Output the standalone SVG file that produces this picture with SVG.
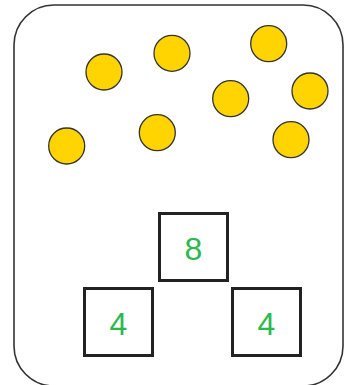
<svg xmlns="http://www.w3.org/2000/svg" width="353" height="385" viewBox="0 0 353 385">
<style>
.frame{fill:#fff;stroke:#333;stroke-width:1.6}
.coin{fill:#FFD400;stroke:#333;stroke-width:1.3}
.box{fill:#fff;stroke:#222;stroke-width:3}
.num{font-family:"Liberation Sans",Arial,sans-serif;font-size:32px;fill:#2DB84D;text-anchor:middle}
</style>
<rect width="353" height="385" fill="#fff"/>
<rect class="frame" x="14" y="5" width="329" height="381" rx="40" ry="40"/>
<g id="coins">
<circle class="coin" cx="104" cy="72" r="18"/>
<circle class="coin" cx="172" cy="53.3" r="18"/>
<circle class="coin" cx="268.7" cy="43.7" r="18"/>
<circle class="coin" cx="230.7" cy="98.7" r="18"/>
<circle class="coin" cx="310" cy="91" r="18"/>
<circle class="coin" cx="66.7" cy="146" r="18"/>
<circle class="coin" cx="157.3" cy="132.7" r="18"/>
<circle class="coin" cx="291" cy="139.7" r="18"/>
</g>
<g id="node-top">
<rect class="box" x="159.5" y="213.5" width="68" height="67"/>
<text class="num" x="193.5" y="260">8</text>
</g>
<g id="node-left">
<rect class="box" x="84.5" y="288.5" width="68" height="67"/>
<text class="num" x="118.5" y="335">4</text>
</g>
<g id="node-right">
<rect class="box" x="232.5" y="288.5" width="68" height="67"/>
<text class="num" x="266.5" y="335">4</text>
</g>
<g id="connectors"></g>
</svg>
